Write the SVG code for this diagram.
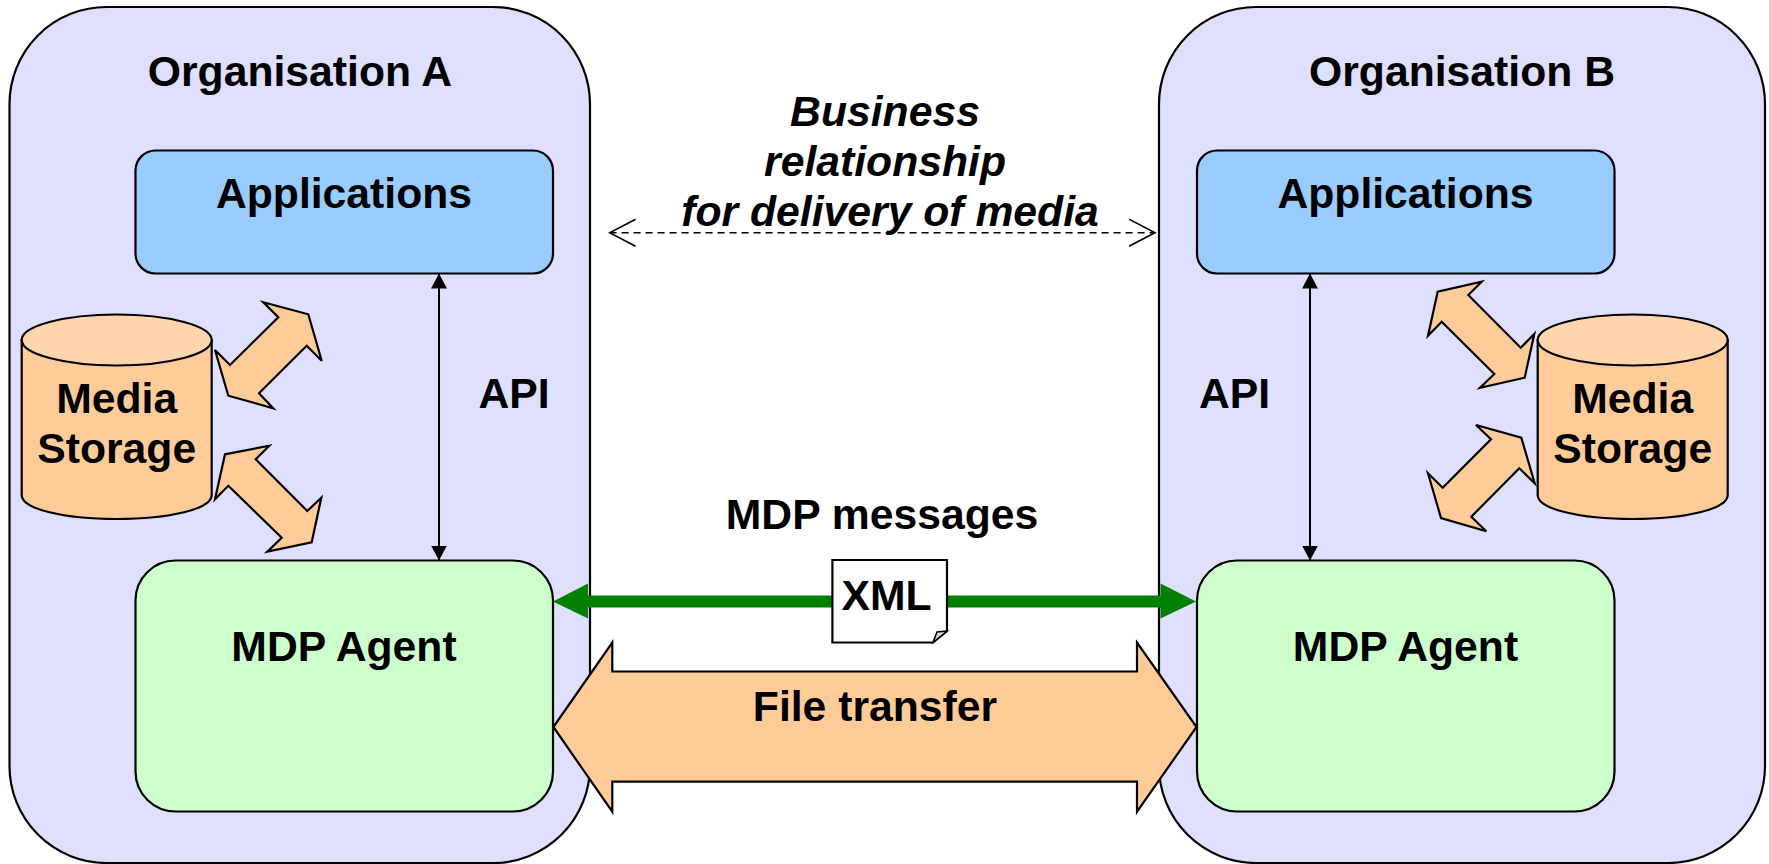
<svg xmlns="http://www.w3.org/2000/svg" width="1769" height="864" viewBox="0 0 1769 864">
<style>
text{font-family:"Liberation Sans",Arial,sans-serif;font-weight:bold;fill:#000;text-anchor:middle;font-size:42.7px}
.s{stroke:#000;stroke-width:2.2;stroke-linejoin:miter}
.org{fill:#dfdfff}.app{fill:#99ccff}.agent{fill:#ccffcc}.st{fill:#ffcc99}
.it{font-style:italic}
</style>
<defs>
<marker id="solid" markerUnits="userSpaceOnUse" markerWidth="16" markerHeight="16" refX="15" refY="8" orient="auto-start-reverse"><path d="M0 0L15 8L0 16Z" fill="#000"/></marker>
<marker id="open" markerUnits="userSpaceOnUse" markerWidth="28" markerHeight="30" refX="26" refY="15" orient="auto-start-reverse"><path d="M0 1.5L26 15L0 28.5" fill="none" stroke="#000" stroke-width="1.6"/></marker>
</defs>
<g id="org-a"><rect class="s org" x="9.5" y="7" width="580.5" height="856" rx="97" ry="97"/><text x="300" y="86">Organisation A</text></g>
<g id="org-b"><rect class="s org" x="1159" y="7" width="606" height="856" rx="97" ry="97"/><text x="1462" y="86">Organisation B</text></g>
<g id="applications-a"><rect class="s app" x="135.5" y="150.5" width="417.5" height="123" rx="20"/><text x="344" y="208">Applications</text></g>
<g id="applications-b"><rect class="s app" x="1197" y="150.5" width="417.5" height="123" rx="20"/><text x="1405.5" y="208">Applications</text></g>
<g id="agent-a"><rect class="s agent" x="135.5" y="560.5" width="417.5" height="251" rx="40"/><text x="344" y="661">MDP Agent</text></g>
<g id="agent-b"><rect class="s agent" x="1197" y="560.5" width="417.5" height="251" rx="40"/><text x="1405.5" y="661">MDP Agent</text></g>
<g id="storage-a">
<path class="s st" d="M21.7 340V495C21.7 509 64 519 116.7 519S211.7 509 211.7 495V340Z"/>
<ellipse class="s" style="fill:#ffd5ad" cx="116.7" cy="340" rx="95" ry="25.5"/>
<text x="116.7" y="413">Media</text><text x="116.7" y="463">Storage</text></g>
<g id="storage-b">
<path class="s st" d="M1537.7 340V495C1537.7 509 1580 519 1632.7 519S1727.7 509 1727.7 495V340Z"/>
<ellipse class="s" style="fill:#ffd5ad" cx="1632.7" cy="340" rx="95" ry="25.5"/>
<text x="1632.7" y="413">Media</text><text x="1632.7" y="463">Storage</text></g>
<g id="connectors">
<path d="M439 273.5V560.5" stroke="#000" stroke-width="2" marker-start="url(#solid)" marker-end="url(#solid)"/>
<path d="M1310 273.5V560.5" stroke="#000" stroke-width="2" marker-start="url(#solid)" marker-end="url(#solid)"/>
<path d="M609.6 232.7H1155" stroke="#000" stroke-width="1.6" stroke-dasharray="7 5" fill="none" marker-start="url(#open)" marker-end="url(#open)"/>
<polygon class="s st" points="263.3,302.3 308.3,314.3 321.7,360.7 306.7,345.7 259,393.3 273.3,408.3 228.3,395.7 215,350 230,365 278.3,317.3"/>
<polygon class="s st" points="269.3,445.7 255.7,459.3 307.3,511 321.3,497.7 311.7,542.3 267.3,551.7 281.7,537.7 228.3,485.7 215,499.3 225,454.3"/>
<polygon class="s st" points="1481.7,281.7 1468.3,295 1520.7,347.7 1534.3,334 1524.7,377.7 1480,387.7 1494.3,374 1441.7,321.7 1428,335.7 1437.7,291.7"/>
<polygon class="s st" points="1476,425 1521.3,437.7 1534.7,483.3 1519.3,468.3 1471.3,516.7 1486.3,531.3 1441,518 1428,473.3 1442.7,487.7 1491,439.3"/>
<polygon fill="#008000" points="553,601.5 588,583.5 588,595.5 1160.5,595.5 1160.5,583.5 1196,601.5 1160.5,618.5 1160.5,607.5 588,607.5 588,618.5"/>
<polygon class="s st" points="553.4,727 612.3,642.5 612.3,671.5 1137,671.5 1137,642.5 1196.5,727 1137,811.7 1137,781.7 612.3,781.7 612.3,811.7"/>
</g>
<g id="xml-doc">
<path class="s" fill="#fff" d="M832.4 560H947V631L933 642.5H832.4Z"/>
<path d="M947 631L937 632L933 642.5Z" fill="#ddd" stroke="#000" stroke-width="1.5"/>
<text x="886.6" y="610">XML</text>
</g>
<g id="labels">
<text class="it" x="885" y="126">Business</text>
<text class="it" x="885" y="175.5">relationship</text>
<text class="it" x="890" y="225.5">for delivery of media</text>
<text x="514" y="408">API</text>
<text x="1234.5" y="408">API</text>
<text x="882" y="529">MDP messages</text>
<text x="875" y="721">File transfer</text>
</g>
</svg>
